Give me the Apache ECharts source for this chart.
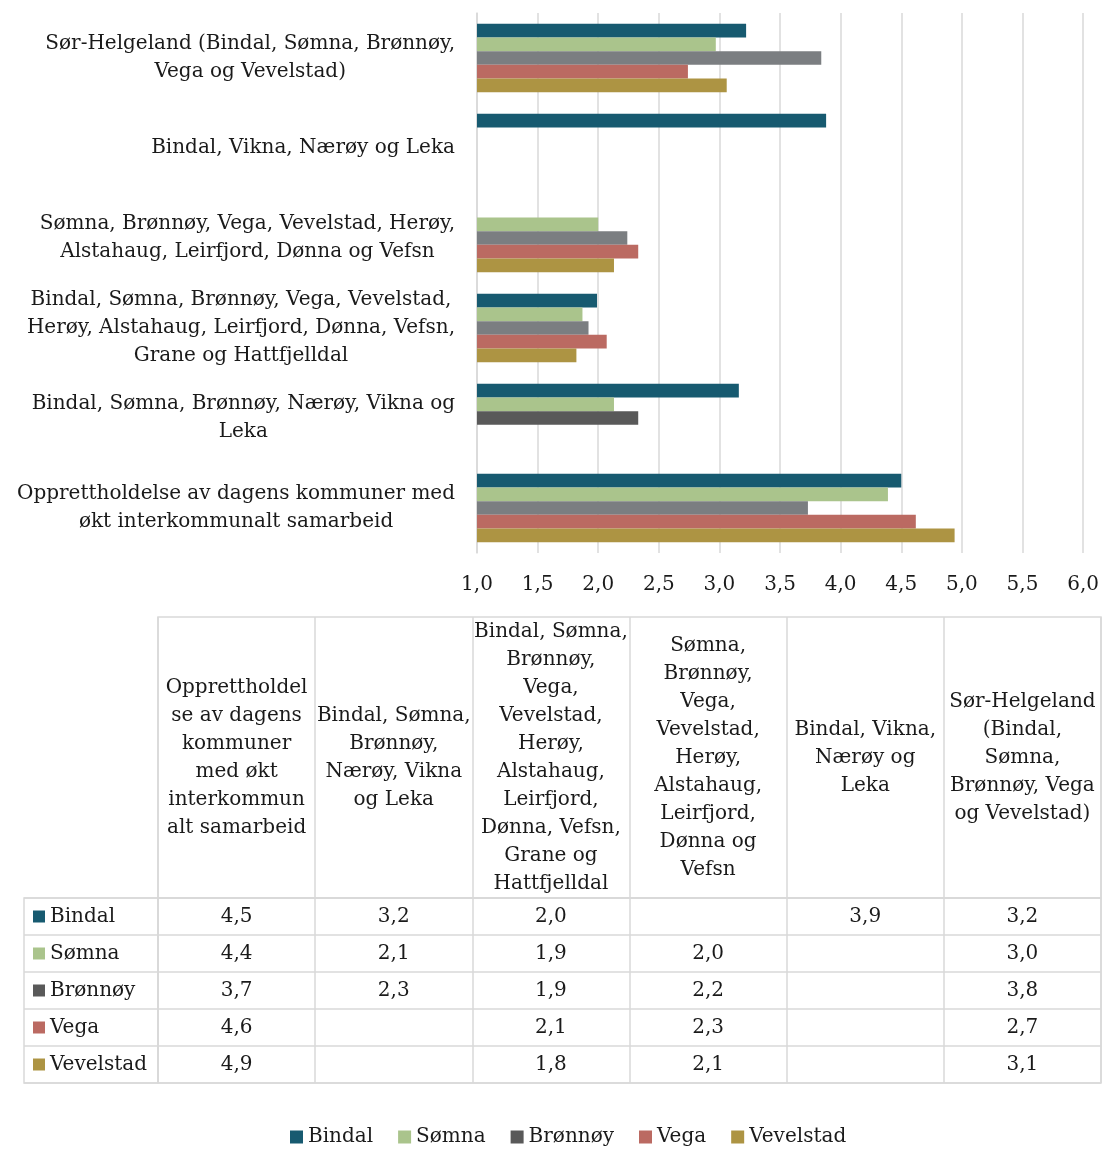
<!DOCTYPE html>
<html><head><meta charset="utf-8">
<script src="https://cdn.jsdelivr.net/npm/echarts@6/dist/echarts.min.js"></script>
<style>html,body{margin:0;padding:0;background:#fff}#c{width:1102px;height:1167px}</style>
</head><body><div id="c"></div>
<script>
// Categories (bottom-to-top in the chart, left-to-right in the table)
const categories = [
  'Opprettholdelse av dagens kommuner med økt interkommunalt samarbeid',
  'Bindal, Sømna, Brønnøy, Nærøy, Vikna og Leka',
  'Bindal, Sømna, Brønnøy, Vega, Vevelstad, Herøy, Alstahaug, Leirfjord, Dønna, Vefsn, Grane og Hattfjelldal',
  'Sømna, Brønnøy, Vega, Vevelstad, Herøy, Alstahaug, Leirfjord, Dønna og Vefsn',
  'Bindal, Vikna, Nærøy og Leka',
  'Sør-Helgeland (Bindal, Sømna, Brønnøy, Vega og Vevelstad)'
];
const axisLabels = [
  'Opprettholdelse av dagens kommuner med\nøkt interkommunalt samarbeid',
  'Bindal, Sømna, Brønnøy, Nærøy, Vikna og\nLeka',
  'Bindal, Sømna, Brønnøy, Vega, Vevelstad,\nHerøy, Alstahaug, Leirfjord, Dønna, Vefsn,\nGrane og Hattfjelldal',
  'Sømna, Brønnøy, Vega, Vevelstad, Herøy,\nAlstahaug, Leirfjord, Dønna og Vefsn',
  'Bindal, Vikna, Nærøy og Leka',
  'Sør-Helgeland (Bindal, Sømna, Brønnøy,\nVega og Vevelstad)'
];
const tableHeaders = [
  'Opprettholdel\nse av dagens\nkommuner\nmed økt\ninterkommun\nalt samarbeid',
  'Bindal, Sømna,\nBrønnøy,\nNærøy, Vikna\nog Leka',
  'Bindal, Sømna,\nBrønnøy,\nVega,\nVevelstad,\nHerøy,\nAlstahaug,\nLeirfjord,\nDønna, Vefsn,\nGrane og\nHattfjelldal',
  'Sømna,\nBrønnøy,\nVega,\nVevelstad,\nHerøy,\nAlstahaug,\nLeirfjord,\nDønna og\nVefsn',
  'Bindal, Vikna,\nNærøy og\nLeka',
  'Sør-Helgeland\n(Bindal,\nSømna,\nBrønnøy, Vega\nog Vevelstad)'
];
const seriesNames = ['Bindal', 'Sømna', 'Brønnøy', 'Vega', 'Vevelstad'];
const bindal    = [4.50, 3.16, 1.99, null, 3.88, 3.22];
const somna     = [4.39, 2.13, 1.87, 2.00, null, 2.97];
const bronnoy   = [3.73, 2.33, 1.92, 2.24, null, 3.84];
const vega      = [4.62, null, 2.07, 2.33, null, 2.74];
const vevelstad = [4.94, null, 1.82, 2.13, null, 3.06];
const xTicks = { min: 1, max: 6, interval: 0.5 };

const seriesValues = [bindal, somna, bronnoy, vega, vevelstad];
const colors = ['#175a70', '#aac48c', '#7b7e81', '#bb6a62', '#ad9443'];
const keyColors = ['#175a70', '#aac48c', '#595959', '#bb6a62', '#ad9443'];
const FONT = 'DejaVu Serif';
const TXT = '#1a1a1a';
const LINE = '#d9d9d9';
const fmt = v => v.toFixed(1).replace('.', ',');

const chart = echarts.init(document.getElementById('c'), null, { renderer: 'canvas' });

const barSeries = seriesNames.map((n, si) => ({
  name: n, type: 'bar', xAxisIndex: 0, yAxisIndex: 0,
  barGap: '0%', barCategoryGap: '24%',
  itemStyle: { color: colors[si] },
  data: seriesValues[si].map((v, ci) => {
    if (si === 2 && ci === 1) return { value: v, itemStyle: { color: '#595959' } };
    return v;
  })
}));

const tableData = [];
seriesValues.forEach((arr, si) => arr.forEach((v, ci) => {
  if (v != null) tableData.push([ci, si, v]);
}));

const rich = { c: { align: 'center', fontFamily: FONT, fontSize: 20, color: TXT, lineHeight: 28 } };
const keyRich = {};
keyColors.forEach((c, i) => { keyRich['k' + i] = { width: 12, height: 12, backgroundColor: c }; });
keyRich.t = { fontFamily: FONT, fontSize: 20, color: TXT, padding: [0, 0, 0, 5] };

const hideAxis = { axisLine: { show: false }, axisTick: { show: false }, axisLabel: { show: false } };

chart.setOption({
  animation: false,
  textStyle: { fontFamily: FONT, color: TXT },
  legend: {
    bottom: 15, left: 285, icon: 'rect', itemWidth: 13, itemHeight: 13, itemGap: 25,
    textStyle: { fontFamily: FONT, fontSize: 20, color: TXT },
    data: seriesNames.map((n, i) => ({ name: n, itemStyle: { color: keyColors[i] } }))
  },
  grid: [
    { left: 477, right: 18, top: 13, height: 540 },
    { left: 158, width: 943, top: 617, height: 281, show: true, borderColor: LINE, borderWidth: 1.5 },
    { left: 158, width: 943, top: 898, height: 185, show: true, borderColor: LINE, borderWidth: 1.5 },
    { left: 24, width: 134, top: 898, height: 185, show: true, borderColor: LINE, borderWidth: 1.5 }
  ],
  xAxis: [
    { gridIndex: 0, type: 'value', min: xTicks.min, max: xTicks.max, interval: xTicks.interval,
      axisLine: { show: false }, axisTick: { show: false },
      splitLine: { lineStyle: { color: LINE, width: 1.5 } },
      axisLabel: { margin: 22, fontFamily: FONT, fontSize: 20, color: TXT, formatter: fmt } },
    Object.assign({ gridIndex: 1, type: 'category', data: categories,
      splitLine: { show: true, interval: 0, lineStyle: { color: LINE, width: 1.5 } } }, hideAxis),
    Object.assign({ gridIndex: 2, type: 'category', data: categories,
      splitLine: { show: true, interval: 0, lineStyle: { color: LINE, width: 1.5 } } }, hideAxis),
    Object.assign({ gridIndex: 3, type: 'category', data: [''] }, hideAxis)
  ],
  yAxis: [
    { gridIndex: 0, type: 'category', data: categories,
      axisLine: { show: true, lineStyle: { color: LINE, width: 1.5 } }, axisTick: { show: false },
      axisLabel: { interval: 0, align: 'right', margin: 22, rich: rich,
        formatter: (v, i) => axisLabels[i].split('\n').map(l => '{c|' + l + '}').join('\n') } },
    Object.assign({ gridIndex: 1, type: 'value', min: 0, max: 1, splitLine: { show: false } }, hideAxis),
    Object.assign({ gridIndex: 2, type: 'category', inverse: true, data: seriesNames,
      splitLine: { show: true, interval: 0, lineStyle: { color: LINE, width: 1.5 } } }, hideAxis),
    { gridIndex: 3, type: 'category', inverse: true, data: seriesNames,
      axisLine: { show: false }, axisTick: { show: false },
      splitLine: { show: true, interval: 0, lineStyle: { color: LINE, width: 1.5 } },
      axisLabel: { inside: true, interval: 0, margin: 9, rich: keyRich,
        formatter: (v, i) => '{k' + i + '|}{t|' + v + '}' } }
  ],
  series: barSeries.concat([
    { type: 'scatter', xAxisIndex: 1, yAxisIndex: 1, symbolSize: 1, silent: true,
      itemStyle: { color: 'transparent', opacity: 1 },
      label: { show: true, position: 'inside', fontFamily: FONT, fontSize: 20, color: TXT, opacity: 1,
        lineHeight: 28, align: 'center', formatter: p => tableHeaders[p.data[0]] },
      data: tableHeaders.map((h, i) => [i, 0.5]) },
    { type: 'scatter', xAxisIndex: 2, yAxisIndex: 2, symbolSize: 1, silent: true,
      itemStyle: { color: 'transparent', opacity: 1 },
      label: { show: true, position: 'inside', fontFamily: FONT, fontSize: 20, color: TXT, opacity: 1,
        formatter: p => fmt(p.data[2]) },
      data: tableData }
  ])
});
</script></body></html>
